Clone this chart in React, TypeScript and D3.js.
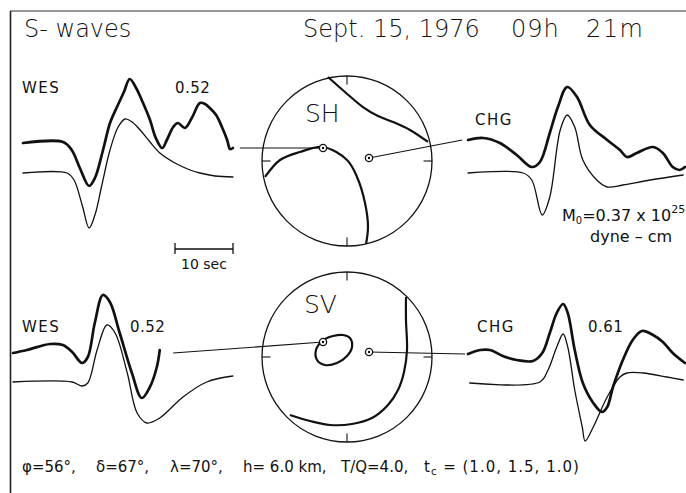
import React from 'react';
import * as d3 from 'd3';

const W = 686;
const H = 493;

// Seismograms: [time (s), amplitude (arbitrary units)]
const wesShObs: [number, number][] = [
  [0, 0], [6.9, 0.1], [8.4, -0.7], [9.8, -2.5], [11.4, -4.3], [12.4, -3.5], [13.8, -0.7],
  [15.0, 2.0], [16.2, 3.6], [17.4, 5.1], [18.4, 6.4], [19.5, 5.5], [20.7, 4.0], [21.9, 2.3],
  [22.9, 0.5], [24.0, -0.5], [24.8, 0.3], [25.9, 1.6], [26.7, 2.0], [27.9, 1.5], [29.1, 2.5],
  [30.5, 4.0], [31.4, 3.9], [32.2, 3.5], [33.3, 2.8], [34.3, 1.6], [35.2, 0.3], [35.7, -0.6], [36.2, -0.5],
];
const wesShSyn: [number, number][] = [
  [0, 0], [7.6, 0], [8.8, -0.7], [10.2, -3.2], [11.4, -5.5], [12.4, -4.2], [13.6, -1.2],
  [15.0, 2.3], [16.4, 4.6], [17.6, 5.4], [18.8, 5.1], [20.2, 4.3], [21.9, 3.1], [23.6, 2.0],
  [26.2, 1.0], [28.8, 0.3], [30.5, 0], [33.1, -0.3], [36.2, -0.4],
];
const chgShObs: [number, number][] = [
  [0, 0], [2.6, 0.2], [5.5, -0.3], [8.4, -1.5], [11.0, -2.7], [12.4, -2.2], [14.1, 0.7],
  [15.5, 3.3], [17.1, 5.3], [18.8, 4.3], [21.0, 1.5], [24.0, 0], [26.2, -1.0], [27.4, -1.7],
  [29.1, -1.3], [31.9, -0.7], [33.6, -1.3], [35.3, -2.7], [36.5, -3.0], [37.4, -2.7],
];
const chgShSyn: [number, number][] = [
  [0, 0], [9.5, 0], [11.0, -0.7], [12.8, -4.2], [14.1, -2.4], [15.9, 4.3], [17.1, 5.8],
  [18.4, 4.6], [19.8, 1.3], [22.2, -0.7], [24.0, -1.4], [26.7, -1.2], [31.4, -0.7], [37.1, -0.2],
];
const wesSvObs: [number, number][] = [
  [0, -0.1], [2.4, 0.2], [6.4, 0.8], [8.6, 0.7], [10.2, 0], [11.9, -1.1], [12.9, -0.5],
  [14.1, 2.9], [15.5, 5.7], [16.7, 5.0], [18.4, 1.9], [20.5, -2.1], [22.2, -4.6], [23.6, -3.5],
  [24.8, -1.5], [25.3, 0.2],
];
const wesSvSyn: [number, number][] = [
  [0, 0], [10.2, 0], [11.9, -0.4], [12.9, -0.1], [14.5, 3.2], [16.2, 5.7], [17.6, 4.9],
  [19.7, 0.9], [21.4, -3.1], [23.1, -4.1], [25.3, -3.6], [29.3, -1.5], [33.4, 0], [37.9, 0.6],
];
const chgSvObs: [number, number][] = [
  [0, 0], [2.1, 0.4], [3.8, 0.4], [6.0, -0.2], [8.4, -0.6], [11.2, -0.7], [12.8, 0.1],
  [14.1, 2.1], [15.3, 4.1], [16.4, 5.0], [17.2, 4.1], [18.4, 0.4], [19.8, -2.9], [21.6, -4.9],
  [23.1, -5.8], [24.0, -5.3], [25.0, -3.3], [26.7, -0.6], [28.4, 1.4], [30.0, 2.3], [31.9, 1.9],
  [33.6, 1.2], [35.3, 0.1], [37.4, -0.9],
];
const chgSvSyn: [number, number][] = [
  [0.3, -0.1], [12.4, 0], [13.8, 1.2], [15.3, 3.5], [16.4, 4.8], [17.2, 3.5], [18.4, -0.8],
  [19.7, -4.5], [20.2, -5.9], [21.6, -4.5], [24.0, -1.5], [26.2, 0.5], [27.4, 0.9], [30.2, 0.9],
  [34.3, 0.5], [37.1, 0.2],
];

// Focal sphere nodal lines (unit-radius projection coords, y up)
const shNodalA: [number, number][] = [
  [-0.224, 0.988], [-0.024, 0.812], [0.188, 0.635], [0.365, 0.529], [0.541, 0.459], [0.741, 0.365], [0.953, 0.224],
];
const shNodalB: [number, number][] = [
  [-0.965, -0.188], [-0.788, 0.012], [-0.553, 0.106], [-0.282, 0.165], [0, 0.012],
  [0.118, -0.188], [0.212, -0.494], [0.247, -0.776], [0.224, -0.976],
];
const svNodalLoop: [number, number][] = [
  [-0.306, 0.176], [-0.365, 0.082], [-0.353, -0.035], [-0.259, -0.094], [-0.118, -0.071],
  [0, 0.012], [0.059, 0.118], [0.035, 0.224], [-0.047, 0.259], [-0.165, 0.247], [-0.259, 0.212],
];
const svNodalB: [number, number][] = [
  [0.694, 0.706], [0.694, 0.435], [0.706, 0.082], [0.671, -0.176], [0.6, -0.388], [0.482, -0.565],
  [0.294, -0.718], [0.059, -0.788], [-0.2, -0.8], [-0.435, -0.753], [-0.671, -0.682],
];
const shStations: [number, number][] = [[-0.282, 0.153], [0.259, 0.035]];
const svStations: [number, number][] = [[-0.282, 0.176], [0.259, 0.059]];

const stationNames = ['WES', 'CHG'];
const topAmpRatios = ['0.52', ''];
const botAmpRatios = ['0.52', '0.61'];
const titleTexts = ['S- waves', 'Sept. 15, 1976', '09h', '21m'];
const paramTexts = ['φ=56°,', 'δ=67°,', 'λ=70°,', 'h= 6.0 km,', 'T/Q=4.0,'];

const FONT = "'DejaVu Sans', 'Liberation Sans', sans-serif";
const INK = '#111';

type Pt = [number, number];

function Trace({ obs, syn, x0, base, synOff }: { obs: Pt[]; syn: Pt[]; x0: number; base: number; synOff: number }) {
  const x = d3.scaleLinear().domain([0, 10]).range([x0, x0 + 58]);
  const y = d3.scaleLinear().domain([0, 1]).range([base, base - 10]);
  const line = d3.line<Pt>().x((d) => x(d[0])).curve(d3.curveCatmullRom.alpha(0.5));
  const obsPath = line.y((d) => y(d[1]))(obs) || '';
  const synPath = line.y((d) => y(d[1] + synOff))(syn) || '';
  return (
    <g fill="none" stroke={INK} strokeLinejoin="round" strokeLinecap="round">
      <path d={synPath} strokeWidth={1.3} />
      <path d={obsPath} strokeWidth={2.7} />
    </g>
  );
}

function Sphere({ cx, cy, r, lines, loops, stations }: { cx: number; cy: number; r: number; lines: Pt[][]; loops: Pt[][]; stations: Pt[] }) {
  const sx = d3.scaleLinear().domain([-1, 1]).range([cx - r, cx + r]);
  const sy = d3.scaleLinear().domain([-1, 1]).range([cy + r, cy - r]);
  const open = d3.line<Pt>().x((d) => sx(d[0])).y((d) => sy(d[1])).curve(d3.curveCatmullRom.alpha(0.5));
  const closed = d3.line<Pt>().x((d) => sx(d[0])).y((d) => sy(d[1])).curve(d3.curveCatmullRomClosed.alpha(0.5));
  const ticks: [Pt, Pt][] = [
    [[0, 1], [0, 0.9]], [[0, -1], [0, -0.9]], [[-1, 0], [-0.9, 0]], [[1, 0], [0.9, 0]],
  ];
  return (
    <g fill="none" stroke={INK}>
      <circle cx={sx(0)} cy={sy(0)} r={sx(1) - sx(0)} strokeWidth={1.3} />
      {ticks.map((t, i) => (
        <line key={i} x1={sx(t[0][0])} y1={sy(t[0][1])} x2={sx(t[1][0])} y2={sy(t[1][1])} strokeWidth={1.1} />
      ))}
      {lines.map((l, i) => <path key={i} d={open(l) || ''} strokeWidth={2.2} />)}
      {loops.map((l, i) => <path key={i} d={closed(l) || ''} strokeWidth={2.2} />)}
      {stations.map((s, i) => (
        <g key={i}>
          <circle cx={sx(s[0])} cy={sy(s[1])} r={3.6} fill="#fff" strokeWidth={1.3} />
          <circle cx={sx(s[0])} cy={sy(s[1])} r={1.2} fill={INK} stroke="none" />
        </g>
      ))}
    </g>
  );
}

export default function App() {
  const R = 85;
  const sh = { cx: 347, cy: 161 };
  const sv = { cx: 347, cy: 357 };
  const shX = d3.scaleLinear().domain([-1, 1]).range([sh.cx - R, sh.cx + R]);
  const shY = d3.scaleLinear().domain([-1, 1]).range([sh.cy + R, sh.cy - R]);
  const svX = d3.scaleLinear().domain([-1, 1]).range([sv.cx - R, sv.cx + R]);
  const svY = d3.scaleLinear().domain([-1, 1]).range([sv.cy + R, sv.cy - R]);

  const panels = [
    { obs: wesShObs, syn: wesShSyn, x0: 23, base: 143, synOff: -3.0 },
    { obs: chgShObs, syn: chgShSyn, x0: 468, base: 140, synOff: -3.3 },
    { obs: wesSvObs, syn: wesSvSyn, x0: 13, base: 352, synOff: -3.0 },
    { obs: chgSvObs, syn: chgSvSyn, x0: 468, base: 354, synOff: -2.8 },
  ];
  const px = (p: { x0: number; base: number }, t: number, a: number): Pt => [p.x0 + t * 5.8, p.base - a * 10];

  const conns: [Pt, Pt][] = [
    [px(panels[0], 37.4, -0.5), [shX(shStations[0][0]), shY(shStations[0][1])]],
    [[shX(shStations[1][0]), shY(shStations[1][1])], px(panels[1], -1.0, 0)],
    [px(panels[2], 27.6, -0.1), [svX(svStations[0][0]), svY(svStations[0][1])]],
    [[svX(svStations[1][0]), svY(svStations[1][1])], px(panels[3], -0.5, 0)],
  ];

  const scaleX = d3.scaleLinear().domain([0, 10]).range([175, 233]);
  const paramX = [22, 96, 170, 243, 341];

  return (
    <div style={{ position: 'absolute', left: 0, top: 0 }}>
      <svg width={W} height={H} style={{ display: 'block', background: '#fff' }} fontFamily={FONT}>
        <rect width={W} height={H} fill="#fff" />
        <line x1={10} y1={11} x2={W} y2={11} stroke="#333" strokeWidth={1.2} />
        <line x1={10.5} y1={11} x2={10.5} y2={H} stroke="#222" strokeWidth={1.6} />

        <g fill={INK} fontSize={24} fontWeight={300}>
          <text x={24} y={37}>{titleTexts[0]}</text>
          <text x={303} y={37}>{titleTexts[1]}</text>
          <text x={511} y={37} letterSpacing={1}>{titleTexts[2]}</text>
          <text x={586} y={37} letterSpacing={1.5}>{titleTexts[3]}</text>
        </g>

        <g stroke={INK} strokeWidth={1.1}>
          {conns.map((c, i) => (
            <line key={i} x1={c[0][0]} y1={c[0][1]} x2={c[1][0]} y2={c[1][1]} />
          ))}
        </g>

        {panels.map((p, i) => (
          <Trace key={i} {...p} />
        ))}

        <Sphere cx={sh.cx} cy={sh.cy} r={R} lines={[shNodalA, shNodalB]} loops={[]} stations={shStations} />
        <Sphere cx={sv.cx} cy={sv.cy} r={R} lines={[svNodalB]} loops={[svNodalLoop]} stations={svStations} />

        <g fill={INK} fontSize={25} fontWeight={300}>
          <text x={305} y={122}>SH</text>
          <text x={304} y={313}>SV</text>
        </g>

        <g fill={INK} fontSize={15} letterSpacing={1.5}>
          <text x={22} y={93}>{stationNames[0]}</text>
          <text x={175} y={93} letterSpacing={0.5}>{topAmpRatios[0]}</text>
          <text x={475} y={125}>{stationNames[1]}</text>
          <text x={22} y={332}>{stationNames[0]}</text>
          <text x={130} y={332} letterSpacing={0.5}>{botAmpRatios[0]}</text>
          <text x={477} y={332}>{stationNames[1]}</text>
          <text x={588} y={332} letterSpacing={0.5}>{botAmpRatios[1]}</text>
        </g>

        <g fill={INK} fontSize={16}>
          <text x={562} y={221}>
            M<tspan fontSize={10} dy={3}>0</tspan>
            <tspan dy={-3}>=0.37 x 10</tspan>
            <tspan fontSize={11} dy={-8}>25</tspan>
          </text>
          <text x={590} y={242}>dyne – cm</text>
        </g>

        <g stroke={INK} strokeWidth={1.3}>
          <line x1={scaleX(0)} y1={249} x2={scaleX(10)} y2={249} />
          <line x1={scaleX(0)} y1={243} x2={scaleX(0)} y2={254} />
          <line x1={scaleX(10)} y1={243} x2={scaleX(10)} y2={254} />
        </g>
        <text x={scaleX(5)} y={269} textAnchor="middle" fontSize={14} fill={INK}>10 sec</text>

        <g fill={INK} fontSize={15}>
          {paramTexts.map((t, i) => (
            <text key={i} x={paramX[i]} y={472}>{t}</text>
          ))}
          <text x={424} y={472} letterSpacing={1}>
            t<tspan fontSize={10} dy={3}>c</tspan>
            <tspan dy={-3}> = (1.0, 1.5, 1.0)</tspan>
          </text>
        </g>
      </svg>
    </div>
  );
}
